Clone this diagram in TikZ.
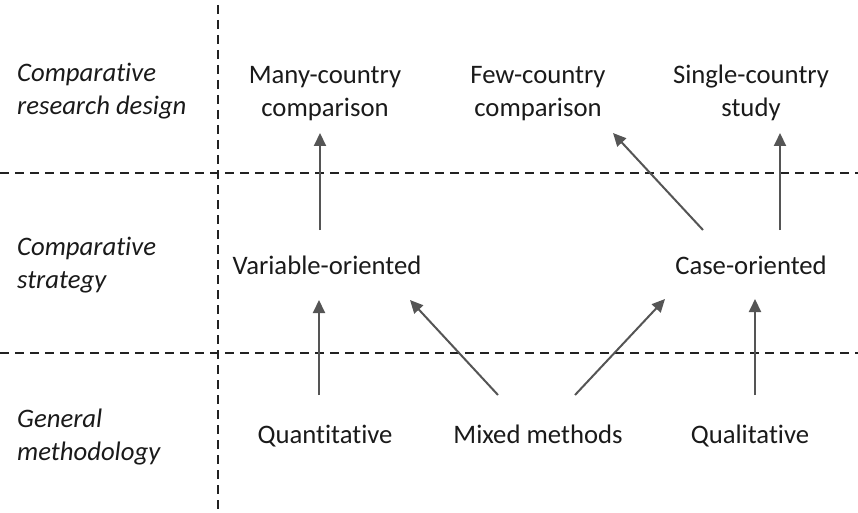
\documentclass[tikz,border=0pt]{standalone}
\usepackage{fontspec}
\setmainfont{Carlito}[Ligatures=NoCommon]
\usetikzlibrary{arrows.meta}
\definecolor{inkcol}{HTML}{1A1A1A}
\definecolor{arrcol}{HTML}{555555}
\definecolor{gridcol}{HTML}{222222}
\begin{document}
\begin{tikzpicture}[x=1pt,y=-1pt,
  every node/.style={font=\fontsize{26.7pt}{33pt}\selectfont, text=inkcol, inner sep=0pt},
  rowlabel/.style={anchor=base west, align=left, font=\fontsize{26.7pt}{33pt}\selectfont\itshape},
  item/.style={anchor=base, align=center},
  arr/.style={draw=arrcol, line width=2pt, -{Triangle[length=13pt,width=12pt]}},
  divider/.style={draw=gridcol, line width=2pt, dash pattern=on 9pt off 6pt}]
  \useasboundingbox (0,0) rectangle (858,513);

  % dividing lines between rows and the label column
  \draw[divider] (218,5) -- (218,513);
  \draw[divider] (0,173) -- (858,173);
  \draw[divider] (0,353) -- (858,353);

  % row labels (base anchor sits on the last line)
  \node[rowlabel] (lab1) at (17,115) {Comparative\\research design};
  \node[rowlabel] (lab2) at (17,288) {Comparative\\strategy};
  \node[rowlabel] (lab3) at (17,460) {General\\methodology};

  % research designs
  \node[item] (many) at (325,117) {Many-country\\comparison};
  \node[item] (few) at (538,117) {Few-country\\comparison};
  \node[item] (single) at (751,117) {Single-country\\study};

  % strategies
  \node[item] (var) at (327,274) {Variable-oriented};
  \node[item] (case) at (751,274) {Case-oriented};

  % methodologies
  \node[item] (quant) at (325,443) {Quantitative};
  \node[item] (mixed) at (538,443) {Mixed methods};
  \node[item] (qual) at (750,443) {Qualitative};

  % connections
  \draw[arr] ([shift={(-6,-48)}]quant.base) -- ([shift={(-8,26)}]var.base);
  \draw[arr] ([shift={(-7,-44)}]var.base) -- ([shift={(-5,16)}]many.base);
  \draw[arr] ([shift={(-40,-48)}]mixed.base) -- ([shift={(83,26)}]var.base);
  \draw[arr] ([shift={(37,-48)}]mixed.base) -- ([shift={(-86,25)}]case.base);
  \draw[arr] ([shift={(5,-48)}]qual.base) -- ([shift={(4,25)}]case.base);
  \draw[arr] ([shift={(-48,-44)}]case.base) -- ([shift={(75,16)}]few.base);
  \draw[arr] ([shift={(29,-44)}]case.base) -- ([shift={(29,16)}]single.base);
\end{tikzpicture}
\end{document}
